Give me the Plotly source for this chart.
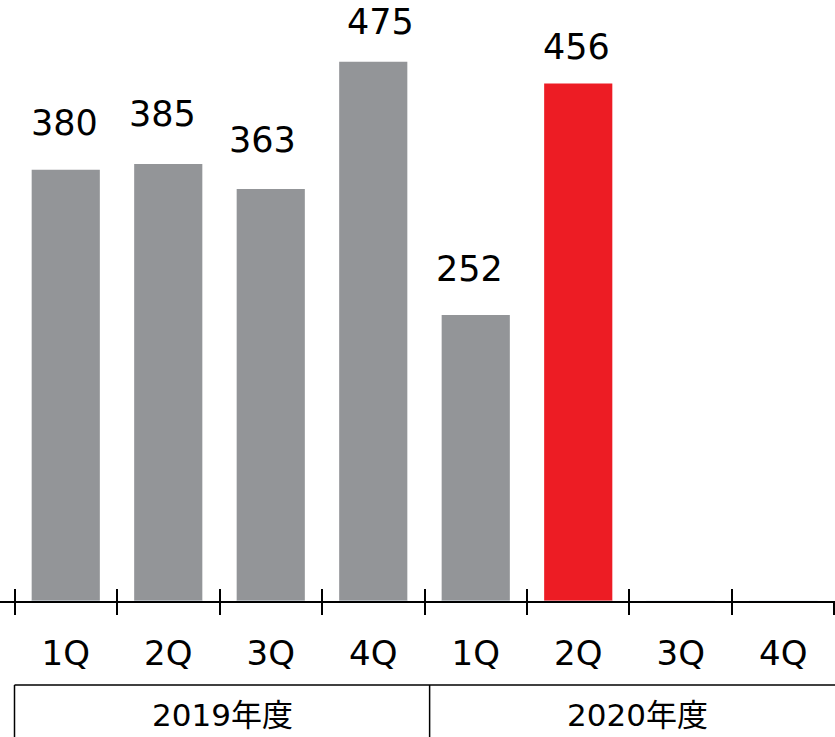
import plotly.graph_objects as go

# Quarterly values by fiscal year
fiscal_years = ["2019年度", "2019年度", "2019年度", "2019年度",
                "2020年度", "2020年度", "2020年度", "2020年度"]
quarters = ["1Q", "2Q", "3Q", "4Q", "1Q", "2Q", "3Q", "4Q"]
values = [380, 385, 363, 475, 252, 456, None, None]
highlight_index = 5
year_labels = ["2019年度", "2020年度"]

GRAY = "#939598"
RED = "#ED1C24"
FONT = "DejaVu Sans, Noto Sans CJK JP, sans-serif"

# fine placement of each value label (pixels)
label_dx = [-1, -5.5, -8.5, 7, -6, -1.5, 0, 0]
label_dy = [24.5, 28.5, 27, 17.5, 24, 14.5, 0, 0]

categories = [f"{fy} {q}" for fy, q in zip(fiscal_years, quarters)]
colors = [RED if i == highlight_index else GRAY for i in range(len(values))]

fig = go.Figure()
fig.add_trace(go.Bar(
    x=categories,
    y=values,
    marker=dict(color=colors, line=dict(width=0)),
    width=0.665,
    hoverinfo="skip",
    xaxis="x",
))
# invisible twin used only to draw the upper half of the boundary ticks
fig.add_trace(go.Bar(x=categories, y=[0] * len(categories), xaxis="x2",
                     marker=dict(color="rgba(0,0,0,0)"), hoverinfo="skip"))

# value labels above bars
for c, v, dx, dy in zip(categories, values, label_dx, label_dy):
    if v is None:
        continue
    fig.add_annotation(x=c, y=v, text=str(v), showarrow=False,
                       yanchor="bottom", yshift=dy, xshift=dx,
                       font=dict(family=FONT, size=35, color="#000000"))

x_range = [-0.6415, 7.505]

fig.update_layout(
    width=835, height=737,
    margin=dict(l=0, r=0, t=0, b=136),
    plot_bgcolor="white", paper_bgcolor="white",
    showlegend=False,
    bargap=0.33,
    barmode="overlay",
    xaxis=dict(
        type="category",
        categoryorder="array", categoryarray=categories,
        range=x_range,
        tickmode="array", tickvals=categories, ticktext=quarters,
        tickson="boundaries",
        ticks="outside", ticklen=12, tickwidth=1.5, tickcolor="#000000",
        showline=True, linecolor="#000000", linewidth=1.5,
        showgrid=False, zeroline=False,
        tickfont=dict(family=FONT, size=34, color="#000000"),
        ticklabelstandoff=21,
        fixedrange=True,
    ),
    xaxis2=dict(
        type="category", overlaying="x", matches=None,
        categoryorder="array", categoryarray=categories,
        range=x_range,
        tickmode="array", tickvals=categories,
        tickson="boundaries",
        ticks="inside", ticklen=12, tickwidth=1.5, tickcolor="#000000",
        showticklabels=False, showline=False, showgrid=False, zeroline=False,
        side="bottom",
    ),
    yaxis=dict(range=[0, 529.5], visible=False, fixedrange=True),
)

# fiscal-year box below the quarter labels
plot_h = 601.0
y_top = (601 - 685) / plot_h
y_bot = (601 - 740) / plot_h
left, divider, right = -0.5, 3.55, 7.6
line = dict(color="#000000", width=1.5)
fig.add_shape(type="line", xref="x", yref="paper", x0=left, x1=right,
              y0=y_top, y1=y_top, line=line)
for xv in (left, divider):
    fig.add_shape(type="line", xref="x", yref="paper", x0=xv, x1=xv,
                  y0=y_top, y1=y_bot, line=line)
for label, (a, b) in zip(year_labels, [(left, divider), (divider, right)]):
    fig.add_annotation(x=(a + b) / 2, xref="x", y=(601 - 715) / plot_h,
                       yref="paper", text=label, showarrow=False,
                       yanchor="middle",
                       font=dict(family=FONT, size=31, color="#000000"))

fig.write_html("out.html")
